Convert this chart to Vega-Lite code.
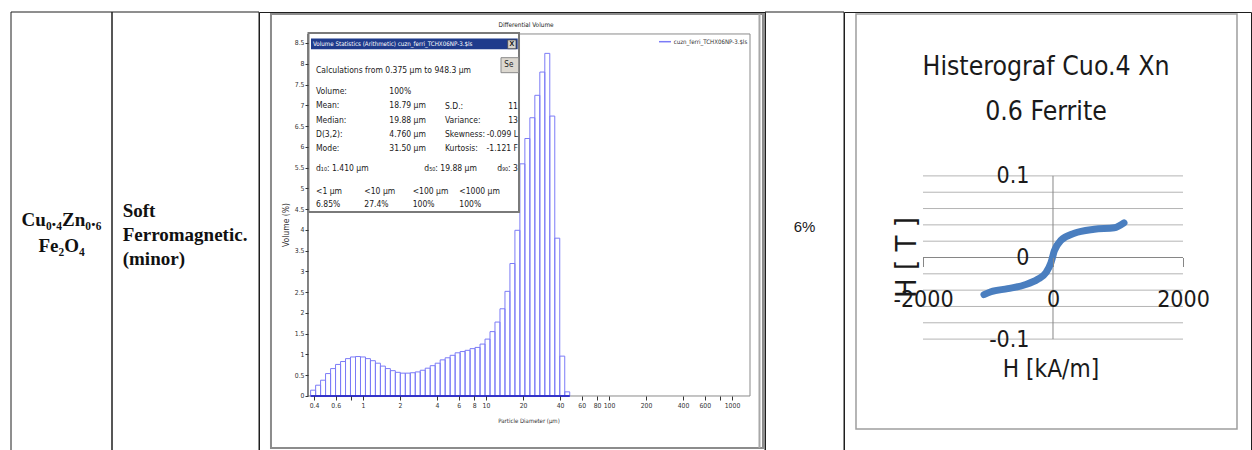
{
  "$schema": "https://vega.github.io/schema/vega-lite/v6.json",
  "padding": {"left": 10, "top": 11, "right": 1, "bottom": 0},
  "background": "white",
  "bounds": "flush",
  "spacing": 0,
  "config": {"view": {"stroke": "#1e1e1e", "strokeWidth": 1}},
  "datasets": {
    "hist": [
      {"lo": 0.375, "hi": 0.412, "vol": 0.14},
      {"lo": 0.412, "hi": 0.452, "vol": 0.26},
      {"lo": 0.452, "hi": 0.496, "vol": 0.38},
      {"lo": 0.496, "hi": 0.545, "vol": 0.54},
      {"lo": 0.545, "hi": 0.598, "vol": 0.66},
      {"lo": 0.598, "hi": 0.657, "vol": 0.76},
      {"lo": 0.657, "hi": 0.721, "vol": 0.83},
      {"lo": 0.721, "hi": 0.791, "vol": 0.9},
      {"lo": 0.791, "hi": 0.869, "vol": 0.94},
      {"lo": 0.869, "hi": 0.954, "vol": 0.95},
      {"lo": 0.954, "hi": 1.047, "vol": 0.94},
      {"lo": 1.047, "hi": 1.149, "vol": 0.9},
      {"lo": 1.149, "hi": 1.261, "vol": 0.85},
      {"lo": 1.261, "hi": 1.385, "vol": 0.79},
      {"lo": 1.385, "hi": 1.52, "vol": 0.72},
      {"lo": 1.52, "hi": 1.669, "vol": 0.66},
      {"lo": 1.669, "hi": 1.832, "vol": 0.61},
      {"lo": 1.832, "hi": 2.011, "vol": 0.57},
      {"lo": 2.011, "hi": 2.208, "vol": 0.55},
      {"lo": 2.208, "hi": 2.423, "vol": 0.55},
      {"lo": 2.423, "hi": 2.66, "vol": 0.56},
      {"lo": 2.66, "hi": 2.92, "vol": 0.58},
      {"lo": 2.92, "hi": 3.206, "vol": 0.62},
      {"lo": 3.206, "hi": 3.519, "vol": 0.67},
      {"lo": 3.519, "hi": 3.863, "vol": 0.73},
      {"lo": 3.863, "hi": 4.241, "vol": 0.79},
      {"lo": 4.241, "hi": 4.656, "vol": 0.87},
      {"lo": 4.656, "hi": 5.111, "vol": 0.92},
      {"lo": 5.111, "hi": 5.611, "vol": 0.98},
      {"lo": 5.611, "hi": 6.159, "vol": 1.04},
      {"lo": 6.159, "hi": 6.761, "vol": 1.07},
      {"lo": 6.761, "hi": 7.422, "vol": 1.1},
      {"lo": 7.422, "hi": 8.148, "vol": 1.14},
      {"lo": 8.148, "hi": 8.944, "vol": 1.17},
      {"lo": 8.944, "hi": 9.819, "vol": 1.25},
      {"lo": 9.819, "hi": 10.78, "vol": 1.37},
      {"lo": 10.78, "hi": 11.83, "vol": 1.55},
      {"lo": 11.83, "hi": 12.99, "vol": 1.78},
      {"lo": 12.99, "hi": 14.26, "vol": 2.1},
      {"lo": 14.26, "hi": 15.65, "vol": 2.52},
      {"lo": 15.65, "hi": 17.18, "vol": 3.19},
      {"lo": 17.18, "hi": 18.86, "vol": 3.99},
      {"lo": 18.86, "hi": 20.7, "vol": 5.59},
      {"lo": 20.7, "hi": 22.73, "vol": 6.2},
      {"lo": 22.73, "hi": 24.95, "vol": 6.7},
      {"lo": 24.95, "hi": 27.39, "vol": 7.24},
      {"lo": 27.39, "hi": 30.07, "vol": 7.8},
      {"lo": 30.07, "hi": 33.01, "vol": 8.25},
      {"lo": 33.01, "hi": 36.24, "vol": 6.74},
      {"lo": 36.24, "hi": 39.78, "vol": 3.8},
      {"lo": 39.78, "hi": 43.67, "vol": 0.96},
      {"lo": 43.67, "hi": 47.94, "vol": 0.1}
    ],
    "curve": [
      {"H": -1062, "B": -0.0455},
      {"H": -954, "B": -0.0419},
      {"H": -697, "B": -0.0382},
      {"H": -442, "B": -0.0337},
      {"H": -235, "B": -0.0267},
      {"H": -108, "B": -0.0186},
      {"H": -31, "B": -0.0064},
      {"H": 20, "B": 0.008},
      {"H": 123, "B": 0.0211},
      {"H": 328, "B": 0.0297},
      {"H": 635, "B": 0.0346},
      {"H": 943, "B": 0.0365},
      {"H": 1092, "B": 0.0425}
    ],
    "grid": [
      {"v": -0.1}, {"v": -0.08}, {"v": -0.06}, {"v": -0.04}, {"v": -0.02},
      {"v": 0.02}, {"v": 0.04}, {"v": 0.06}, {"v": 0.08}, {"v": 0.1}
    ]
  },
  "hconcat": [
    {
      "width": 101,
      "height": 441,
      "layer": [
        {
          "data": {"values": [{}]},
          "mark": {"type": "rect", "fill": "transparent", "stroke": "#1e1e1e", "strokeWidth": 1},
          "encoding": {}
        },
        {
          "data": {"values": [{"formula": ["Cu₀.₄Zn₀.₆", "Fe₂O₄"]}]},
          "mark": {"type": "text", "font": "Liberation Serif", "fontWeight": "bold", "fontSize": 19, "lineHeight": 26, "align": "center", "baseline": "middle", "dy": -13, "color": "#111"},
          "encoding": {"text": {"field": "formula"}}
        }
      ]
    },
    {
      "width": 147,
      "height": 441,
      "layer": [
        {
          "data": {"values": [{}]},
          "mark": {"type": "rect", "fill": "transparent", "stroke": "#1e1e1e", "strokeWidth": 1},
          "encoding": {}
        },
        {
          "data": {"values": [{"type": ["Soft", "Ferromagnetic.", "(minor)"]}]},
          "mark": {"type": "text", "font": "Liberation Serif", "fontWeight": "bold", "fontSize": 19, "lineHeight": 24.4, "align": "left", "baseline": "middle", "dx": -62.8, "dy": -22, "color": "#111"},
          "encoding": {"text": {"field": "type"}}
        }
      ]
    },
    {
      "width": 506,
      "height": 441,
      "layer": [
        {
          "data": {"values": [{}]},
          "mark": {"type": "rect", "fill": "white", "stroke": "#8c8c8c", "strokeWidth": 2},
          "encoding": {
            "x": {"datum": 0.1786, "type": "quantitative", "scale": {"type": "log", "domain": [0.1427, 1855], "nice": false},
              "axis": {"orient": "bottom", "offset": -57, "zindex": 1, "tickCount": 100, "values": [0.4, 0.6, 0.8, 1, 2, 4, 6, 8, 10, 20, 40, 60, 80, 100, 200, 400, 600, 800, 1000], "format": "~g", "labelExpr": "datum.value == 0.8 || datum.value == 800 ? '' : datum.label", "domain": false, "grid": false, "title": null, "tickSize": 4, "tickColor": "#333", "labelPadding": 2, "labelFont": "Liberation Sans Narrow, Arial Narrow, DejaVu Sans Condensed, Liberation Sans, sans-serif", "labelFontSize": 6.8, "labelColor": "#333", "labelFlush": false, "labelOverlap": false}},
            "x2": {"datum": 1786},
            "y": {"datum": 9.198, "type": "quantitative", "scale": {"domain": [-1.3725, 9.246], "nice": false, "zero": false},
              "axis": {"orient": "left", "offset": -49, "zindex": 1, "tickCount": 100, "values": [0, 0.5, 1, 1.5, 2, 2.5, 3, 3.5, 4, 4.5, 5, 5.5, 6, 6.5, 7, 7.5, 8, 8.5], "format": ".2~f", "domain": false, "grid": false, "title": null, "tickSize": 3, "tickColor": "#333", "labelPadding": 1, "labelFont": "Liberation Sans Narrow, Arial Narrow, DejaVu Sans Condensed, Liberation Sans, sans-serif", "labelFontSize": 6.8, "labelColor": "#333", "labelOverlap": false, "labelFlush": false}},
            "y2": {"datum": -1.252}
          }
        },
        {
          "data": {"values": [{}]},
          "mark": {"type": "rule", "color": "#a8a8a8", "strokeWidth": 2},
          "encoding": {"x": {"datum": 1673}, "y": {"datum": -1.252}, "y2": {"datum": 9.198}}
        },
        {
          "data": {"values": [{}]},
          "mark": {"type": "text", "text": "Differential Volume", "font": "Liberation Sans Narrow, Arial Narrow, DejaVu Sans Condensed, Liberation Sans, sans-serif", "fontSize": 6.4, "color": "#222", "align": "center", "baseline": "middle"},
          "encoding": {"x": {"datum": 21.14}, "y": {"datum": 8.933}}
        },
        {
          "data": {"values": [{}]},
          "mark": {"type": "rect", "fill": "transparent", "stroke": "#8a8a8a", "strokeWidth": 1},
          "encoding": {"x": {"datum": 0.3571}, "x2": {"datum": 1401}, "y": {"datum": 0}, "y2": {"datum": 8.717}}
        },
        {
          "data": {"name": "hist"},
          "mark": {"type": "rect", "fill": "transparent", "stroke": "#7b7bf7", "strokeWidth": 1},
          "encoding": {
            "x": {"field": "lo", "type": "quantitative"},
            "x2": {"field": "hi"},
            "y": {"field": "vol", "type": "quantitative"},
            "y2": {"datum": 0}
          }
        },
        {
          "data": {"values": [{}]},
          "mark": {"type": "rule", "color": "#3434c8", "strokeWidth": 2},
          "encoding": {"x": {"datum": 0.375}, "x2": {"datum": 47.94}, "y": {"datum": 0}}
        },
        {
          "data": {"values": [{}]},
          "mark": {"type": "rule", "color": "#404040", "strokeWidth": 1},
          "encoding": {"x": {"datum": 0.3571}, "y": {"datum": 0}, "y2": {"datum": 8.717}}
        },
        {
          "data": {"values": [{}]},
          "mark": {"type": "rule", "color": "#7b7bf7", "strokeWidth": 1.5},
          "encoding": {"x": {"datum": 255}, "x2": {"datum": 319.2}, "y": {"datum": 8.531}}
        },
        {
          "data": {"values": [{}]},
          "mark": {"type": "text", "text": "cuzn_ferri_TCHX06NP-3.$ls", "font": "Liberation Sans Narrow, Arial Narrow, DejaVu Sans Condensed, Liberation Sans, sans-serif", "fontSize": 6.1, "color": "#333", "align": "left", "baseline": "middle"},
          "encoding": {"x": {"datum": 335.7}, "y": {"datum": 8.531}}
        },
        {
          "data": {"values": [{}]},
          "mark": {"type": "text", "text": "Volume (%)", "angle": 270, "font": "Liberation Sans Narrow, Arial Narrow, DejaVu Sans Condensed, Liberation Sans, sans-serif", "fontSize": 8.5, "color": "#333", "align": "center", "baseline": "middle"},
          "encoding": {"x": {"datum": 0.2366}, "y": {"datum": 4.117}}
        },
        {
          "data": {"values": [{}]},
          "mark": {"type": "text", "text": "Particle Diameter (µm)", "font": "Liberation Sans Narrow, Arial Narrow, DejaVu Sans Condensed, Liberation Sans, sans-serif", "fontSize": 6, "color": "#333", "align": "center", "baseline": "middle"},
          "encoding": {"x": {"datum": 22.37}, "y": {"datum": -0.602}}
        },
        {
          "data": {"values": [{}]},
          "mark": {"type": "rect", "fill": "#ffffff", "stroke": "#7a7a7a", "strokeWidth": 2},
          "encoding": {"x": {"datum": 0.3604}, "x2": {"datum": 18.55}, "y": {"datum": 4.431}, "y2": {"datum": 8.741}}
        },
        {
          "data": {"values": [{}]},
          "mark": {"type": "rect", "fill": "#1f3b8c"},
          "encoding": {"x": {"datum": 0.3777}, "x2": {"datum": 18.1}, "y": {"datum": 8.348}, "y2": {"datum": 8.608}}
        },
        {
          "data": {"values": [{}]},
          "mark": {"type": "text", "text": "Volume Statistics (Arithmetic) cuzn_ferri_TCHX06NP-3.$ls", "font": "Liberation Sans Narrow, Arial Narrow, DejaVu Sans Condensed, Liberation Sans, sans-serif", "fontSize": 6.2, "color": "#ffffff", "align": "left", "baseline": "middle"},
          "encoding": {"x": {"datum": 0.3923}, "y": {"datum": 8.476}}
        },
        {
          "data": {"values": [{}]},
          "mark": {"type": "rect", "fill": "#d8d4cc", "stroke": "#444", "strokeWidth": 0.7},
          "encoding": {"x": {"datum": 15.01}, "x2": {"datum": 17.53}, "y": {"datum": 8.363}, "y2": {"datum": 8.572}}
        },
        {
          "data": {"values": [{}]},
          "mark": {"type": "text", "text": "X", "font": "Liberation Sans", "fontWeight": "bold", "fontSize": 7, "color": "#111", "align": "center", "baseline": "middle"},
          "encoding": {"x": {"datum": 16.21}, "y": {"datum": 8.466}}
        },
        {
          "data": {"values": [{}]},
          "mark": {"type": "rect", "fill": "#dcd8d0", "stroke": "#8a8a8a", "strokeWidth": 1},
          "encoding": {"x": {"datum": 13.24}, "x2": {"datum": 18.4}, "y": {"datum": 7.785}, "y2": {"datum": 8.146}}
        },
        {
          "data": {"values": [{}]},
          "mark": {"type": "text", "text": "Se", "font": "Liberation Sans Narrow, Arial Narrow, DejaVu Sans Condensed, Liberation Sans, sans-serif", "fontSize": 8, "color": "#222", "align": "left", "baseline": "middle"},
          "encoding": {"x": {"datum": 14.09}, "y": {"datum": 7.965}}
        },
        {
          "data": {"values": [{}]},
          "mark": {"type": "text", "text": "Calculations from 0.375 µm to 948.3 µm", "font": "Liberation Sans Narrow, Arial Narrow, DejaVu Sans Condensed, Liberation Sans, sans-serif", "fontSize": 8.5, "color": "#1a1a1a", "align": "left", "baseline": "top"},
          "encoding": {"x": {"datum": 0.4148}, "y": {"datum": 7.934}}
        },
        {
          "data": {"values": [{}]},
          "mark": {"type": "text", "text": ["Volume:", "Mean:", "Median:", "D(3,2):", "Mode:"], "lineHeight": 14.17, "font": "Liberation Sans Narrow, Arial Narrow, DejaVu Sans Condensed, Liberation Sans, sans-serif", "fontSize": 8.5, "color": "#1a1a1a", "align": "left", "baseline": "top"},
          "encoding": {"x": {"datum": 0.4148}, "y": {"datum": 7.435}}
        },
        {
          "data": {"values": [{}]},
          "mark": {"type": "text", "text": ["100%", "18.79 µm", "19.88 µm", "4.760 µm", "31.50 µm"], "lineHeight": 14.17, "font": "Liberation Sans Narrow, Arial Narrow, DejaVu Sans Condensed, Liberation Sans, sans-serif", "fontSize": 8.5, "color": "#1a1a1a", "align": "left", "baseline": "top"},
          "encoding": {"x": {"datum": 1.636}, "y": {"datum": 7.435}}
        },
        {
          "data": {"values": [{}]},
          "mark": {"type": "text", "text": ["S.D.:", "Variance:", "Skewness:", "Kurtosis:"], "lineHeight": 14.17, "font": "Liberation Sans Narrow, Arial Narrow, DejaVu Sans Condensed, Liberation Sans, sans-serif", "fontSize": 8.5, "color": "#1a1a1a", "align": "left", "baseline": "top"},
          "encoding": {"x": {"datum": 4.642}, "y": {"datum": 7.09}}
        },
        {
          "data": {"values": [{}]},
          "mark": {"type": "text", "text": ["11", "13", "-0.099 L", "-1.121 F"], "lineHeight": 14.17, "font": "Liberation Sans Narrow, Arial Narrow, DejaVu Sans Condensed, Liberation Sans, sans-serif", "fontSize": 8.5, "color": "#1a1a1a", "align": "right", "baseline": "top"},
          "encoding": {"x": {"datum": 18.2}, "y": {"datum": 7.09}}
        },
        {
          "data": {"values": [{}]},
          "mark": {"type": "text", "text": "d₁₀:  1.410 µm", "font": "Liberation Sans Narrow, Arial Narrow, DejaVu Sans Condensed, Liberation Sans, sans-serif", "fontSize": 8.5, "color": "#1a1a1a", "align": "left", "baseline": "top"},
          "encoding": {"x": {"datum": 0.4148}, "y": {"datum": 5.588}}
        },
        {
          "data": {"values": [{}]},
          "mark": {"type": "text", "text": "d₅₀:  19.88 µm", "font": "Liberation Sans Narrow, Arial Narrow, DejaVu Sans Condensed, Liberation Sans, sans-serif", "fontSize": 8.5, "color": "#1a1a1a", "align": "left", "baseline": "top"},
          "encoding": {"x": {"datum": 3.15}, "y": {"datum": 5.588}}
        },
        {
          "data": {"values": [{}]},
          "mark": {"type": "text", "text": "d₉₀:  3", "font": "Liberation Sans Narrow, Arial Narrow, DejaVu Sans Condensed, Liberation Sans, sans-serif", "fontSize": 8.5, "color": "#1a1a1a", "align": "right", "baseline": "top"},
          "encoding": {"x": {"datum": 18.2}, "y": {"datum": 5.588}}
        },
        {
          "data": {"values": [{}]},
          "mark": {"type": "text", "text": ["<1 µm", "6.85%"], "lineHeight": 12.7, "font": "Liberation Sans Narrow, Arial Narrow, DejaVu Sans Condensed, Liberation Sans, sans-serif", "fontSize": 8.5, "color": "#1a1a1a", "align": "left", "baseline": "top"},
          "encoding": {"x": {"datum": 0.4148}, "y": {"datum": 5.027}}
        },
        {
          "data": {"values": [{}]},
          "mark": {"type": "text", "text": ["<10 µm", "27.4%"], "lineHeight": 12.7, "font": "Liberation Sans Narrow, Arial Narrow, DejaVu Sans Condensed, Liberation Sans, sans-serif", "fontSize": 8.5, "color": "#1a1a1a", "align": "left", "baseline": "top"},
          "encoding": {"x": {"datum": 1.025}, "y": {"datum": 5.027}}
        },
        {
          "data": {"values": [{}]},
          "mark": {"type": "text", "text": ["<100 µm", "100%"], "lineHeight": 12.7, "font": "Liberation Sans Narrow, Arial Narrow, DejaVu Sans Condensed, Liberation Sans, sans-serif", "fontSize": 8.5, "color": "#1a1a1a", "align": "left", "baseline": "top"},
          "encoding": {"x": {"datum": 2.535}, "y": {"datum": 5.027}}
        },
        {
          "data": {"values": [{}]},
          "mark": {"type": "text", "text": ["<1000 µm", "100%"], "lineHeight": 12.7, "font": "Liberation Sans Narrow, Arial Narrow, DejaVu Sans Condensed, Liberation Sans, sans-serif", "fontSize": 8.5, "color": "#1a1a1a", "align": "left", "baseline": "top"},
          "encoding": {"x": {"datum": 6.067}, "y": {"datum": 5.027}}
        }
      ]
    },
    {
      "width": 79,
      "height": 441,
      "layer": [
        {
          "data": {"values": [{}]},
          "mark": {"type": "rect", "fill": "transparent", "stroke": "#1e1e1e", "strokeWidth": 1},
          "encoding": {}
        },
        {
          "data": {"values": [{"share": "6%"}]},
          "mark": {"type": "text", "font": "Liberation Sans", "fontSize": 15, "align": "center", "baseline": "middle", "dy": -6, "color": "#1a1a1a"},
          "encoding": {"text": {"field": "share"}}
        }
      ]
    },
    {
      "width": 407,
      "height": 441,
      "layer": [
        {
          "data": {"values": [{}]},
          "mark": {"type": "rect", "fill": "transparent", "stroke": "#9e9e9e", "strokeWidth": 1.5},
          "encoding": {
            "x": {"datum": -3030.8, "type": "quantitative", "scale": {"domain": [-3215.4, 3046.2], "nice": false, "zero": false},
              "axis": {"orient": "bottom", "offset": -195.5, "zindex": 1, "tickCount": 100, "values": [-2000, 0, 2000], "labelExpr": "(datum.value < 0 ? '-' : '') + format(abs(datum.value), '')", "domain": false, "grid": false, "title": null, "ticks": true, "tickSize": 9, "tickColor": "#868686", "labelPadding": 22, "labelFont": "Liberation Sans Narrow, Arial Narrow, DejaVu Sans Condensed, Liberation Sans, sans-serif", "labelFontSize": 23, "labelColor": "#1a1a1a", "labelFlush": false, "labelOverlap": false}},
            "x2": {"datum": 2830.8},
            "y": {"datum": 0.2984, "type": "quantitative", "scale": {"domain": [-0.23958, 0.30086], "nice": false, "zero": false},
              "axis": {"orient": "left", "offset": -185, "zindex": 1, "tickCount": 100, "values": [0.1, 0, -0.1], "labelExpr": "(datum.value < 0 ? '-' : '') + format(abs(datum.value), '')", "domain": false, "grid": false, "title": null, "ticks": false, "labelPadding": 0, "labelFont": "Liberation Sans Narrow, Arial Narrow, DejaVu Sans Condensed, Liberation Sans, sans-serif", "labelFontSize": 23, "labelColor": "#1a1a1a", "labelFlush": false, "labelOverlap": false}},
            "y2": {"datum": -0.2102}
          }
        },
        {
          "data": {"name": "grid"},
          "mark": {"type": "rule", "color": "#b4b4b4", "strokeWidth": 1},
          "encoding": {"x": {"datum": -2000}, "x2": {"datum": 2000}, "y": {"field": "v", "type": "quantitative"}}
        },
        {
          "data": {"values": [{}]},
          "mark": {"type": "rule", "color": "#868686", "strokeWidth": 1.2},
          "encoding": {"x": {"datum": -2000}, "x2": {"datum": 2000}, "y": {"datum": 0}}
        },
        {
          "data": {"values": [{}]},
          "mark": {"type": "rule", "color": "#868686", "strokeWidth": 1},
          "encoding": {"x": {"datum": 0}, "y": {"datum": -0.1}, "y2": {"datum": 0.1}}
        },
        {
          "data": {"values": [{}]},
          "mark": {"type": "text", "text": ["Histerograf  Cuo.4 Xn", "0.6 Ferrite"], "lineHeight": 45, "font": "Liberation Sans Narrow, Arial Narrow, DejaVu Sans Condensed, Liberation Sans, sans-serif", "fontSize": 26.4, "color": "#1a1a1a", "align": "center", "baseline": "top"},
          "encoding": {"x": {"datum": -107.7}, "y": {"datum": 0.2496}}
        },
        {
          "data": {"values": [{}]},
          "mark": {"type": "text", "text": "H [kA/m]", "font": "Liberation Sans Narrow, Arial Narrow, DejaVu Sans Condensed, Liberation Sans, sans-serif", "fontSize": 24.2, "color": "#1a1a1a", "align": "center", "baseline": "middle"},
          "encoding": {"x": {"datum": -31}, "y": {"datum": -0.1384}}
        },
        {
          "data": {"values": [{}]},
          "mark": {"type": "text", "text": "H [ T ]", "angle": 270, "font": "Liberation Sans Narrow, Arial Narrow, DejaVu Sans Condensed, Liberation Sans, sans-serif", "fontSize": 29, "color": "#1a1a1a", "align": "center", "baseline": "middle"},
          "encoding": {"x": {"datum": -2246}, "y": {"datum": 0}}
        },
        {
          "data": {"name": "curve"},
          "mark": {"type": "line", "color": "#4a7ebf", "strokeWidth": 7, "strokeCap": "round", "strokeJoin": "round", "interpolate": "monotone"},
          "encoding": {
            "x": {"field": "H", "type": "quantitative"},
            "y": {"field": "B", "type": "quantitative"},
            "order": {"field": "H", "type": "quantitative"}
          }
        }
      ]
    }
  ]
}
